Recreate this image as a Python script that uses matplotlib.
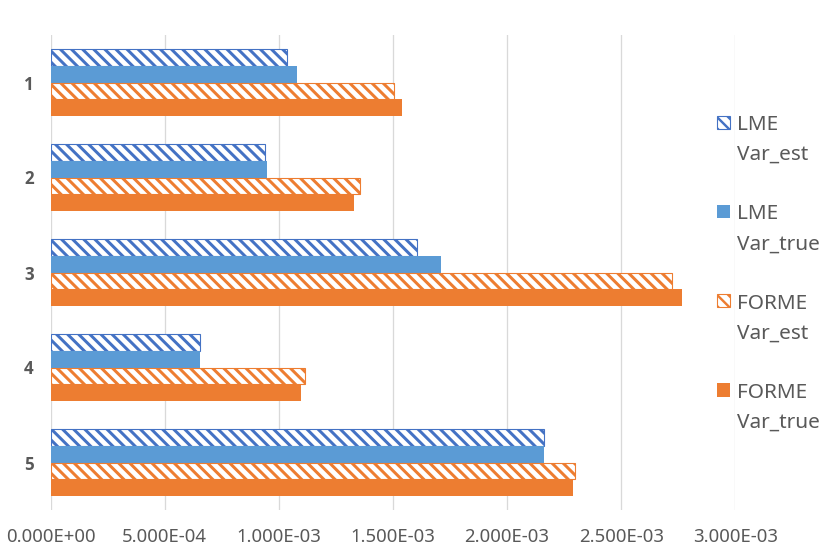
import matplotlib
matplotlib.use('Agg')
import matplotlib.pyplot as plt
from matplotlib.patches import Rectangle
from matplotlib.ticker import FuncFormatter
import numpy as np

# Data
categories = ['1', '2', '3', '4', '5']
series_names = ['LME\nVar_est', 'LME\nVar_true', 'FORME\nVar_est', 'FORME\nVar_true']
lme_est = [1.037e-3, 0.940e-3, 1.607e-3, 0.656e-3, 2.163e-3]
lme_true = [1.078e-3, 0.947e-3, 1.709e-3, 0.653e-3, 2.160e-3]
forme_est = [1.506e-3, 1.357e-3, 2.721e-3, 1.116e-3, 2.296e-3]
forme_true = [1.538e-3, 1.328e-3, 2.765e-3, 1.096e-3, 2.289e-3]
x_ticks = [0, 5e-4, 1e-3, 1.5e-3, 2e-3, 2.5e-3, 3e-3]

DPI = 100
W, H = 824, 548


def pt(px):
    return px * 72 / DPI


BS = chr(92)  # backslash, hatch going down to the right
HATCH = BS * 3
blue_dark = '#4472C4'
blue = '#5B9BD5'
orange = '#ED7D31'
text_grey = '#595959'
styles = [
    dict(facecolor='white', edgecolor=blue_dark, hatch=HATCH, linewidth=pt(1.1)),
    dict(facecolor=blue, edgecolor='none', linewidth=0),
    dict(facecolor='white', edgecolor=orange, hatch=HATCH, linewidth=pt(1.1)),
    dict(facecolor=orange, edgecolor='none', linewidth=0),
]

plt.rcParams['font.family'] = ['Noto Sans', 'DejaVu Sans']
plt.rcParams['hatch.linewidth'] = pt(3.0)

fig = plt.figure(figsize=(W / DPI, H / DPI), dpi=DPI)
ax = fig.add_axes([50.7 / W, 1 - 510 / H, (735.3 - 50.7) / W, (510 - 35) / H])

# Draw the grouped bars
y = np.arange(len(categories))
h = 0.175
all_series = [lme_est, lme_true, forme_est, forme_true]
for i, (vals, st) in enumerate(zip(all_series, styles)):
    bars = ax.barh(y + (i - 1.5) * h, vals, height=h, zorder=3, **st)
    for b in bars:
        if hasattr(b, 'set_hatch_linewidth'):
            b.set_hatch_linewidth(pt(3.0))

# Axes setup
ax.set_xlim(0, 3e-3)
ax.set_ylim(len(categories) - 0.5, -0.5)
ax.set_xticks(x_ticks)
ax.xaxis.set_major_formatter(FuncFormatter(lambda v, p: f'{v:.3E}'))
ax.set_yticks(y)
ax.set_yticklabels(categories, fontweight='bold', family=['Open Sans', 'DejaVu Sans'])
ax.tick_params(axis='x', length=0, pad=pt(18), labelsize=pt(18.5), labelcolor=text_grey)
ax.tick_params(axis='y', length=0, pad=pt(17), labelsize=pt(17), labelcolor=text_grey)
ax.grid(axis='x', color='#D9D9D9', linewidth=pt(1.3), zorder=0)
for s in ax.spines.values():
    s.set_visible(False)

# Legend drawn by hand so the marker sits next to the first line
for i, (name, st) in enumerate(zip(series_names, styles)):
    top = 115.5 + i * 89.3
    rect = Rectangle((716.7 / W, 1 - (top + 13.3) / H), 13.3 / W, 13.3 / H,
                     transform=fig.transFigure, **st)
    if st['edgecolor'] == 'none':
        rect.set_edgecolor(st['facecolor'])
    if hasattr(rect, 'set_hatch_linewidth'):
        rect.set_hatch_linewidth(pt(2.4))
    fig.add_artist(rect)
    for j, line in enumerate(name.split('\n')):
        fig.text(737 / W, 1 - (130 + i * 89.3 + j * 30) / H, line,
                 fontsize=pt(20.8), color=text_grey, va='baseline', ha='left')

fig.savefig('out.png', dpi=DPI)
